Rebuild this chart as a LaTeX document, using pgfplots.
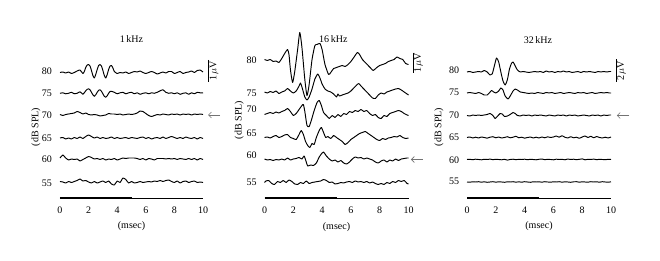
\documentclass[border=0pt]{standalone}
\usepackage{pgfplots}
\pgfplotsset{compat=1.18}
\usepackage{pgfplotstable}
\usepackage{fontspec}
\setmainfont{Liberation Serif}
\usetikzlibrary{arrows.meta}
\newcommand{\fs}{\fontsize{10bp}{12bp}\selectfont}

% ---------- 1 kHz (displacement in px, positive up) ----------
\pgfplotstableread[row sep=\\]{t v\\0 0\\0.2 0.5\\0.4 -0.5\\0.6 0.5\\0.8 -1\\1.0 0\\1.2 1.5\\1.4 2.5\\1.6 -1\\1.7 1\\1.8 5\\1.9 7.5\\2.0 8\\2.1 6.5\\2.2 2\\2.3 -3\\2.4 -5.5\\2.5 -2\\2.6 3\\2.7 7\\2.8 8\\2.9 6.5\\3.0 2\\3.1 -3\\3.2 -5.5\\3.3 -2\\3.4 3\\3.5 6.5\\3.6 7\\3.7 4.5\\3.8 1\\4.0 -1\\4.2 0\\4.4 -0.5\\4.6 0.5\\4.8 -1\\5.0 0\\5.2 1\\5.4 0.5\\5.6 1.5\\5.8 0\\6.0 -1\\6.2 0\\6.4 1\\6.6 0\\6.8 -1.5\\7.0 -0.5\\7.2 0.5\\7.4 -0.5\\7.6 1\\7.8 1\\8.0 -1\\8.2 0\\8.4 1\\8.6 -1\\8.8 0\\9.0 0.5\\9.2 1.5\\9.4 0\\9.6 2\\9.8 2.5\\10.0 0.5\\}\pAa
\pgfplotstableread[row sep=\\]{t v\\0 0\\0.2 0.5\\0.4 -0.5\\0.6 0\\0.8 1\\1.0 -0.5\\1.2 0\\1.4 1.5\\1.6 -1\\1.7 0.5\\1.8 2.5\\1.9 4\\2.0 4.5\\2.1 3.5\\2.2 1\\2.3 -1.5\\2.4 -3\\2.5 -1.5\\2.6 1\\2.7 3\\2.8 3.5\\2.9 2\\3.0 -0.5\\3.1 -3\\3.2 -4\\3.3 -2.5\\3.4 0\\3.5 1.8\\3.6 2\\3.7 1.5\\3.8 1\\4.0 -0.5\\4.2 0.5\\4.4 1\\4.6 -0.5\\4.8 0.5\\5.0 1\\5.2 -0.5\\5.4 0.5\\5.6 -1\\5.8 0\\6.0 0.5\\6.2 -0.5\\6.4 0.5\\6.6 0\\6.8 1\\7.0 2.5\\7.2 3.5\\7.4 1\\7.6 0\\7.8 0.5\\8.0 -0.5\\8.2 0.5\\8.4 -1\\8.6 0\\8.8 0.5\\9.0 -1\\9.2 0.5\\9.4 -0.5\\9.6 1\\9.8 0.5\\10.0 0.5\\}\pAb
\pgfplotstableread[row sep=\\]{t v\\0 0\\0.2 -1\\0.4 0\\0.6 0.5\\0.8 1\\1.0 1.5\\1.2 3\\1.4 2\\1.6 0.5\\1.8 1.5\\2.0 0\\2.2 -0.5\\2.4 0\\2.6 -0.5\\2.8 -1.5\\3.0 -1\\3.2 -0.5\\3.4 1\\3.6 0.5\\3.8 0.5\\4.0 0\\4.2 0.5\\4.4 -0.5\\4.6 0\\4.8 0.5\\5.0 0\\5.2 0.5\\5.4 1.5\\5.6 3.5\\5.8 3\\6.0 1\\6.2 -1\\6.4 -2\\6.6 -1\\6.8 0\\7.0 -0.5\\7.2 0.5\\7.4 0\\7.6 -0.5\\7.8 0.5\\8.0 0\\8.2 0.5\\8.4 -0.5\\8.6 0.5\\8.8 0\\9.0 0.5\\9.2 -0.5\\9.4 0.5\\9.6 0\\9.8 0.5\\10.0 0\\}\pAc
\pgfplotstableread[row sep=\\]{t v\\0 0\\0.2 0.5\\0.4 -1\\0.6 0\\0.8 -1\\1.0 0.5\\1.2 -0.5\\1.4 1\\1.6 -0.5\\1.8 1.5\\2.0 3\\2.2 1.5\\2.4 0\\2.6 1\\2.8 -0.5\\3.0 0.5\\3.2 -0.5\\3.4 0\\3.6 1\\3.8 -0.5\\4.0 0.5\\4.2 -0.5\\4.4 0\\4.6 0.5\\4.8 -0.5\\5.0 0.5\\5.2 0\\5.4 -0.5\\5.6 0.5\\5.8 1\\6.0 -0.5\\6.2 0.5\\6.4 -1\\6.6 0\\6.8 0.5\\7.0 -0.5\\7.2 1\\7.4 -0.5\\7.6 0.5\\7.8 1.5\\8.0 0.5\\8.2 -0.5\\8.4 0.5\\8.6 -0.5\\8.8 1\\9.0 0\\9.2 -0.5\\9.4 0.5\\9.6 -1\\9.8 0.5\\10.0 -0.5\\}\pAd
\pgfplotstableread[row sep=\\]{t v\\0 1\\0.2 4\\0.4 1\\0.6 -1\\0.8 0\\1.0 -0.5\\1.2 0\\1.4 -2\\1.6 -0.5\\1.8 1\\2.0 2.5\\2.2 1.5\\2.4 0\\2.6 0.5\\2.8 -0.5\\3.0 0.5\\3.2 -1\\3.4 0\\3.6 -0.5\\3.8 0.5\\4.0 -1\\4.2 0\\4.4 1\\4.6 0.5\\4.8 1\\5.0 1\\5.2 1\\5.4 0.5\\5.6 -0.5\\5.8 0.5\\6.0 -1\\6.2 0.5\\6.4 0\\6.6 -1\\6.8 0.5\\7.0 0.5\\7.2 0.5\\7.4 0\\7.6 0.5\\7.8 0\\8.0 0.5\\8.2 -0.5\\8.4 0.5\\8.6 0\\8.8 -0.5\\9.0 0.5\\9.2 -0.5\\9.4 0.5\\9.6 -1\\9.8 0.5\\10.0 -0.5\\}\pAe
\pgfplotstableread[row sep=\\]{t v\\0 0.5\\0.2 0\\0.4 -1\\0.6 0.5\\0.8 -0.5\\1.0 0.5\\1.2 1.5\\1.4 3\\1.6 1\\1.8 1.5\\2.0 0\\2.2 -1\\2.4 0.5\\2.6 -1\\2.8 0\\3.0 1\\3.2 -0.5\\3.4 1\\3.6 -2\\3.8 -3\\4.0 1\\4.2 -0.5\\4.4 4\\4.6 2.5\\4.8 -1\\5.0 0.5\\5.2 -1\\5.4 -0.5\\5.6 0.5\\5.8 -0.5\\6.0 0\\6.2 0.5\\6.4 0\\6.6 1\\6.8 0.5\\7.0 1.5\\7.2 0.5\\7.4 1.5\\7.6 2\\7.8 0.5\\8.0 -0.5\\8.2 1\\8.4 -1\\8.6 0.5\\8.8 1\\9.0 -0.5\\9.2 0.5\\9.4 1\\9.6 -0.5\\9.8 0\\10.0 -0.5\\}\pAf

% ---------- 16 kHz ----------
\pgfplotstableread[row sep=\\]{t v\\0 0\\0.2 -1\\0.4 0\\0.6 -2\\0.8 -1.5\\1.0 -3\\1.2 1\\1.4 6\\1.6 10\\1.7 5\\1.8 -10\\1.95 -23\\2.1 -12\\2.3 10\\2.45 27\\2.6 12\\2.8 -20\\2.95 -36\\3.1 -25\\3.3 0\\3.5 14\\3.65 15\\3.85 16\\4.0 10\\4.2 -5\\4.45 -15\\4.6 -13\\4.8 -9\\5.0 -8\\5.2 -7\\5.4 -6\\5.6 -7\\5.8 -5\\6.0 -2\\6.2 2\\6.45 7\\6.6 5\\6.8 0\\7.0 -3\\7.2 -6\\7.4 -9\\7.55 -11\\7.8 -8\\8.0 -6\\8.2 -5\\8.4 -4\\8.6 -2\\8.8 -1\\9.0 0\\9.2 2.5\\9.4 1\\9.6 0\\9.8 -4\\10.0 -5\\}\pBa
\pgfplotstableread[row sep=\\]{t v\\0 0\\0.2 -1\\0.4 0.5\\0.6 -0.5\\0.8 1\\1.0 -1.5\\1.2 0\\1.4 1\\1.6 3.5\\1.8 1\\2.0 -1\\2.2 1\\2.4 6\\2.5 9\\2.6 5\\2.8 -5\\2.95 -8\\3.1 -5\\3.3 3\\3.5 13\\3.7 18\\3.85 14\\4.0 8\\4.2 3\\4.4 1\\4.6 0\\4.8 -2\\5.0 -5\\5.1 -2\\5.2 -4\\5.4 -3\\5.6 -2\\5.8 -1\\6.0 1\\6.2 4\\6.4 7\\6.55 8.5\\6.7 6\\6.9 3\\7.1 0\\7.3 -3\\7.5 -6\\7.7 -6.5\\7.9 -3\\8.1 -1\\8.3 -2\\8.5 0\\8.7 1\\8.9 2\\9.1 3\\9.3 3.5\\9.5 2\\9.7 0\\9.9 -2\\10.0 -3\\}\pBb
\pgfplotstableread[row sep=\\]{t v\\0 -1\\0.2 0\\0.4 1\\0.6 0\\0.8 1.5\\1.0 0.5\\1.2 2\\1.4 3\\1.6 5\\1.8 2\\2.0 -2\\2.2 0\\2.4 4\\2.6 8\\2.7 9\\2.8 2\\2.95 -12\\3.1 -13\\3.25 -7\\3.45 3\\3.65 11\\3.8 13\\3.95 8\\4.1 1\\4.3 -2\\4.5 -5\\4.7 -2\\4.9 -4\\5.1 -1\\5.3 -3\\5.5 0\\5.7 -1\\5.9 2\\6.1 1\\6.3 3\\6.5 2\\6.7 4\\6.9 2\\7.1 3\\7.3 0\\7.5 -2\\7.7 -1\\7.9 -4\\8.1 -5\\8.3 -2\\8.5 -3\\8.7 0\\8.9 1\\9.1 2\\9.3 3\\9.5 2\\9.7 0\\9.9 -1.5\\10.0 -2\\}\pBc
\pgfplotstableread[row sep=\\]{t v\\0 0\\0.2 0.5\\0.4 -0.5\\0.6 1\\0.8 2\\1.0 0\\1.2 1\\1.4 2.5\\1.6 3\\1.8 0\\2.0 -1\\2.2 -2\\2.4 3\\2.55 7\\2.7 3\\2.85 -4\\3.0 -8\\3.15 -10\\3.3 -6\\3.45 -7\\3.6 0\\3.8 7\\3.95 10\\4.1 5\\4.25 0\\4.4 1\\4.6 -1\\4.8 2\\5.0 0\\5.2 -2\\5.4 -4\\5.6 -7\\5.8 -5\\6.0 -2\\6.2 0\\6.4 2\\6.6 4\\6.8 5\\7.0 6\\7.2 4\\7.4 2\\7.6 0\\7.8 -2\\8.0 -3\\8.2 -1\\8.4 -2\\8.6 -0.5\\8.8 0\\9.0 1\\9.2 0.5\\9.4 2\\9.6 0\\9.8 -1\\10.0 -0.5\\}\pBd
\pgfplotstableread[row sep=\\]{t v\\0 0\\0.2 -1\\0.4 -0.5\\0.6 -1.5\\0.8 -0.5\\1.0 -1\\1.2 0\\1.4 -1\\1.6 1\\1.8 -1\\2.0 0\\2.2 0.5\\2.4 1.5\\2.6 0\\2.75 3\\2.9 -3\\3.0 -7\\3.2 -6\\3.4 -6.5\\3.6 -4\\3.8 2\\4.0 6\\4.1 7\\4.3 3\\4.5 0\\4.7 -2\\4.9 -1\\5.1 -3\\5.3 -1.5\\5.5 -4\\5.7 -5\\5.9 -3\\6.1 0\\6.3 2\\6.5 1\\6.7 1.5\\6.9 0\\7.1 1\\7.3 0\\7.5 -1\\7.7 -3\\7.9 -4\\8.1 -2\\8.3 -1\\8.5 -3\\8.7 -1\\8.9 -2\\9.1 0\\9.3 -1.5\\9.5 0\\9.7 0.5\\9.9 1\\10.0 1\\}\pBe
\pgfplotstableread[row sep=\\]{t v\\0 0\\0.1 1.5\\0.3 2\\0.5 -1\\0.7 -2\\0.9 1\\1.1 0\\1.3 2\\1.5 0\\1.7 2.5\\1.9 1\\2.1 -1.5\\2.3 -2\\2.5 0\\2.7 -1\\2.9 1.5\\3.1 -1\\3.3 0\\3.5 0.5\\3.7 1\\3.9 1.5\\4.1 3\\4.3 2\\4.5 0\\4.7 0.5\\4.9 -1.5\\5.1 -1\\5.3 0\\5.5 -0.5\\5.7 0.5\\5.9 1\\6.1 0\\6.3 1.5\\6.5 0.5\\6.7 1\\6.9 0\\7.1 1\\7.3 -0.5\\7.5 0.5\\7.7 -1\\7.9 -2\\8.1 -1\\8.3 -2\\8.5 0\\8.7 -1\\8.9 1\\9.1 0\\9.3 2\\9.5 1\\9.7 2\\9.9 -1\\10.0 -1.5\\}\pBf

% ---------- 32 kHz ----------
\pgfplotstableread[row sep=\\]{t v\\0 0\\0.2 0.5\\0.4 -0.5\\0.6 0\\0.8 0.5\\1.0 0\\1.2 1.5\\1.4 0\\1.6 -3\\1.75 -2\\1.9 6\\2.05 14\\2.2 10\\2.35 0\\2.5 -9\\2.65 -13\\2.8 -8\\2.95 3\\3.1 9\\3.2 10\\3.35 6\\3.5 2\\3.7 0\\3.9 0.5\\4.1 0\\4.3 -0.5\\4.5 0\\4.7 0.5\\4.9 0\\5.1 0.5\\5.3 -0.5\\5.5 1\\5.7 0\\5.9 0.5\\6.1 -0.5\\6.3 0.5\\6.5 0\\6.7 1\\6.9 0\\7.1 0.5\\7.3 -0.5\\7.5 0\\7.7 0.5\\7.9 -0.5\\8.1 0.5\\8.3 0\\8.5 0.5\\8.7 0\\8.9 -0.5\\9.1 0.5\\9.3 0\\9.5 0.5\\9.7 0\\9.9 0.5\\10.0 0.5\\}\pCa
\pgfplotstableread[row sep=\\]{t v\\0 0\\0.2 0.5\\0.4 0\\0.6 -0.5\\0.8 0.5\\1.0 -0.5\\1.2 -2\\1.4 -2\\1.55 0\\1.7 2.5\\1.85 1\\2.0 0\\2.2 2\\2.35 5\\2.5 3\\2.65 -3\\2.85 -6\\3.0 -3\\3.2 2\\3.35 4\\3.5 3\\3.7 1\\3.9 0.5\\4.1 0\\4.3 -0.5\\4.5 0\\4.7 -0.5\\4.9 0.5\\5.1 0\\5.3 -0.5\\5.5 0.5\\5.7 0\\5.9 0.5\\6.1 -0.5\\6.3 0\\6.5 0.5\\6.7 -0.5\\6.9 0\\7.1 0.5\\7.3 0\\7.5 -0.5\\7.7 0.5\\7.9 0\\8.1 0.5\\8.3 -0.5\\8.5 0\\8.7 0.5\\8.9 -0.5\\9.1 0\\9.3 0.5\\9.5 0\\9.7 0.5\\9.9 0\\10.0 0\\}\pCb
\pgfplotstableread[row sep=\\]{t v\\0 0\\0.2 -0.5\\0.4 0.5\\0.6 0\\0.8 0.5\\1.0 0\\1.2 0.5\\1.4 1\\1.6 2\\1.8 0\\1.95 -3\\2.1 -1\\2.3 2\\2.45 1.5\\2.6 -1\\2.8 -0.5\\3.0 1\\3.2 3\\3.35 2\\3.5 0\\3.7 -0.5\\3.9 0.5\\4.1 0\\4.3 0.5\\4.5 -0.5\\4.7 0.5\\4.9 0\\5.1 0.5\\5.3 0\\5.5 -0.5\\5.7 0.5\\5.9 0\\6.1 -0.5\\6.3 0.5\\6.5 0\\6.7 0.5\\6.9 -0.5\\7.1 0.5\\7.3 0\\7.5 0.5\\7.7 -0.5\\7.9 0\\8.1 0.5\\8.3 0\\8.5 -0.5\\8.7 0.5\\8.9 0\\9.1 0.5\\9.3 -0.5\\9.5 0.5\\9.7 0\\9.9 0.5\\10.0 0.5\\}\pCc
\pgfplotstableread[row sep=\\]{t v\\0 0\\0.2 0.5\\0.4 -0.5\\0.6 0.3\\0.8 -0.5\\1.0 0.5\\1.2 0\\1.4 -0.7\\1.6 0.3\\1.8 0.8\\2.0 -0.3\\2.2 0.5\\2.4 -0.5\\2.6 0\\2.8 0.8\\3.0 -0.3\\3.2 0.3\\3.4 1.2\\3.6 -0.3\\3.8 0.3\\4.0 -0.7\\4.2 0\\4.4 0.5\\4.6 -0.5\\4.8 0.3\\5.0 -0.5\\5.2 0.5\\5.4 -0.3\\5.6 0.7\\5.8 0\\6.0 0.5\\6.2 1.5\\6.4 0.3\\6.6 1.8\\6.8 0.2\\7.0 -0.5\\7.2 0.8\\7.4 -0.3\\7.6 0.3\\7.8 -0.8\\8.0 0.5\\8.2 1.5\\8.4 0\\8.6 1.2\\8.8 -0.3\\9.0 1\\9.2 0\\9.4 -0.5\\9.6 0.3\\9.8 -0.5\\10.0 0.5\\}\pCd
\pgfplotstableread[row sep=\\]{t v\\0 0\\0.2 0.2\\0.4 -0.2\\0.6 0.3\\0.8 0\\1.0 -0.3\\1.2 0.2\\1.4 0\\1.6 0.4\\1.8 -0.2\\2.0 0.2\\2.2 0\\2.4 -0.3\\2.6 0.2\\2.8 -0.6\\3.0 0\\3.2 0.3\\3.4 -0.2\\3.6 0.2\\3.8 0\\4.0 0.3\\4.2 -0.2\\4.4 0.2\\4.6 0\\4.8 -0.3\\5.0 0.2\\5.2 0.5\\5.4 -0.2\\5.6 0.2\\5.8 0\\6.0 -0.3\\6.2 0.3\\6.4 0\\6.6 0.2\\6.8 -0.3\\7.0 0.5\\7.2 0\\7.4 0.3\\7.6 -0.2\\7.8 0.2\\8.0 0.6\\8.2 -0.3\\8.4 0.2\\8.6 0\\8.8 0.4\\9.0 -0.2\\9.2 0.2\\9.4 0\\9.6 -0.2\\9.8 0.2\\10.0 0\\}\pCe
\pgfplotstableread[row sep=\\]{t v\\0 0\\0.2 -0.2\\0.4 0.2\\0.6 0\\0.8 0.3\\1.0 -0.2\\1.2 0.2\\1.4 -0.3\\1.6 0\\1.8 0.3\\2.0 -0.2\\2.2 0.2\\2.4 0\\2.6 -0.3\\2.8 0.2\\3.0 0\\3.2 0.3\\3.4 -0.2\\3.6 0.2\\3.8 -0.2\\4.0 0.3\\4.2 0\\4.4 -0.3\\4.6 0.2\\4.8 0\\5.0 0.2\\5.2 -0.2\\5.4 0.3\\5.6 0\\5.8 -0.2\\6.0 0.2\\6.2 0\\6.4 0.3\\6.6 -0.2\\6.8 0.2\\7.0 0\\7.2 -0.3\\7.4 0.2\\7.6 0.3\\7.8 -0.2\\8.0 0.2\\8.2 0\\8.4 -0.2\\8.6 0.3\\8.8 0\\9.0 0.2\\9.2 -0.2\\9.4 0.3\\9.6 0\\9.8 -0.2\\10.0 0.2\\}\pCf

\pgfplotsset{
  trace/.style={black, solid, line width=0.95bp, smooth, tension=0.35, line join=round, mark=none},
  abr/.style={
  scale only axis, y=1bp, xmin=0, xmax=10, ymin=-198, ymax=0, clip=false,
  anchor=north west,
  axis y line=none, axis x line*=bottom,
  x axis line style={line width=0.6bp, -},
  xtick={0,2,4,6,8,10}, major tick length=0pt,
  xticklabel style={inner sep=0pt, anchor=north, yshift=-9bp, font=\fs},
  /pgf/number format/assume math mode=true,
}}

\begin{document}
\begin{tikzpicture}[font=\fs]
\path (0,0) rectangle (660bp,261bp);
% ================= 1 kHz =================
\begin{axis}[abr, x=14.3bp, at={(60bp,261bp)}]
\addplot[trace] table[x=t, y expr=\thisrow{v}-72.5]{\pAa};
\addplot[trace] table[x=t, y expr=\thisrow{v}-93.3]{\pAb};
\addplot[trace] table[x=t, y expr=\thisrow{v}-114.5]{\pAc};
\addplot[trace] table[x=t, y expr=\thisrow{v}-138]{\pAd};
\addplot[trace] table[x=t, y expr=\thisrow{v}-159]{\pAe};
\addplot[trace] table[x=t, y expr=\thisrow{v}-182]{\pAf};
\draw[line width=2.6bp] (axis cs:0,-198) -- (axis cs:5,-198);
\node[anchor=east] at (axis cs:-0.32,-71.7) {80};
\node[anchor=east] at (axis cs:-0.32,-93) {75};
\node[anchor=east] at (axis cs:-0.32,-115) {70};
\node[anchor=east] at (axis cs:-0.32,-138) {65};
\node[anchor=east] at (axis cs:-0.32,-159) {60};
\node[anchor=east] at (axis cs:-0.32,-183) {55};
\node[rotate=90] at (axis cs:-1.68,-127) {(dB SPL)};
\node at (axis cs:5,-226) {(msec)};
\node at (axis cs:5,-39.5) {1\,kHz};
\draw[line width=0.7bp] (axis cs:10.35,-60) -- (axis cs:10.35,-82);
\node[rotate=90] at (axis cs:10.77,-71) {1\,$\mu$V};
\draw[black!55, line width=0.6bp, -{Straight Barb[length=3bp,width=6bp]}] (axis cs:11.19,-115) -- (axis cs:10.35,-115);
\end{axis}
% ================= 16 kHz =================
\begin{axis}[abr, x=14.4bp, at={(264.5bp,261bp)}]
\addplot[trace] table[x=t, y expr=\thisrow{v}-59.5]{\pBa};
\addplot[trace] table[x=t, y expr=\thisrow{v}-92]{\pBb};
\addplot[trace] table[x=t, y expr=\thisrow{v}-113.5]{\pBc};
\addplot[trace] table[x=t, y expr=\thisrow{v}-137.5]{\pBd};
\addplot[trace] table[x=t, y expr=\thisrow{v}-159]{\pBe};
\addplot[trace] table[x=t, y expr=\thisrow{v}-182.5]{\pBf};
\draw[line width=2.6bp] (axis cs:0,-198) -- (axis cs:5,-198);
\node[anchor=east] at (axis cs:-0.3,-60.7) {80};
\node[anchor=east] at (axis cs:-0.3,-93) {75};
\node[anchor=east] at (axis cs:-0.3,-109.3) {70};
\node[anchor=east] at (axis cs:-0.3,-133.3) {65};
\node[anchor=east] at (axis cs:-0.3,-155.5) {60};
\node[anchor=east] at (axis cs:-0.3,-182.7) {55};
\node[rotate=90] at (axis cs:-1.75,-120) {(dB SPL)};
\node at (axis cs:5,-227) {(msec)};
\node at (axis cs:4.78,-39.5) {16\,kHz};
\draw[line width=0.7bp] (axis cs:10.31,-52.7) -- (axis cs:10.31,-73.3);
\node[rotate=90] at (axis cs:10.69,-63) {1\,$\mu$V};
\draw[black!55, line width=0.6bp, -{Straight Barb[length=3bp,width=6bp]}] (axis cs:10.99,-159.5) -- (axis cs:10.17,-159.5);
\end{axis}
% ================= 32 kHz =================
\begin{axis}[abr, x=14.4bp, at={(467bp,261bp)}]
\addplot[trace] table[x=t, y expr=\thisrow{v}-72]{\pCa};
\addplot[trace] table[x=t, y expr=\thisrow{v}-93]{\pCb};
\addplot[trace] table[x=t, y expr=\thisrow{v}-115.5]{\pCc};
\addplot[trace] table[x=t, y expr=\thisrow{v}-137.5]{\pCd};
\addplot[trace] table[x=t, y expr=\thisrow{v}-159.5]{\pCe};
\addplot[trace] table[x=t, y expr=\thisrow{v}-182]{\pCf};
\draw[line width=2.6bp] (axis cs:0,-198) -- (axis cs:5,-198);
\node[anchor=east] at (axis cs:-0.3,-70.7) {80};
\node[anchor=east] at (axis cs:-0.3,-92.7) {75};
\node[anchor=east] at (axis cs:-0.3,-115.7) {70};
\node[anchor=east] at (axis cs:-0.3,-137.7) {65};
\node[anchor=east] at (axis cs:-0.3,-160) {60};
\node[anchor=east] at (axis cs:-0.3,-181.7) {55};
\node[rotate=90] at (axis cs:-1.94,-127) {(dB SPL)};
\node at (axis cs:5,-226) {(msec)};
\node at (axis cs:4.93,-40) {32\,kHz};
\draw[line width=0.7bp] (axis cs:10.35,-59.3) -- (axis cs:10.35,-81.7);
\node[rotate=90] at (axis cs:10.73,-71) {2\,$\mu$V};
\draw[black!55, line width=0.6bp, -{Straight Barb[length=3bp,width=6bp]}] (axis cs:11.27,-115.5) -- (axis cs:10.4,-115.5);
\end{axis}
\end{tikzpicture}
\end{document}
